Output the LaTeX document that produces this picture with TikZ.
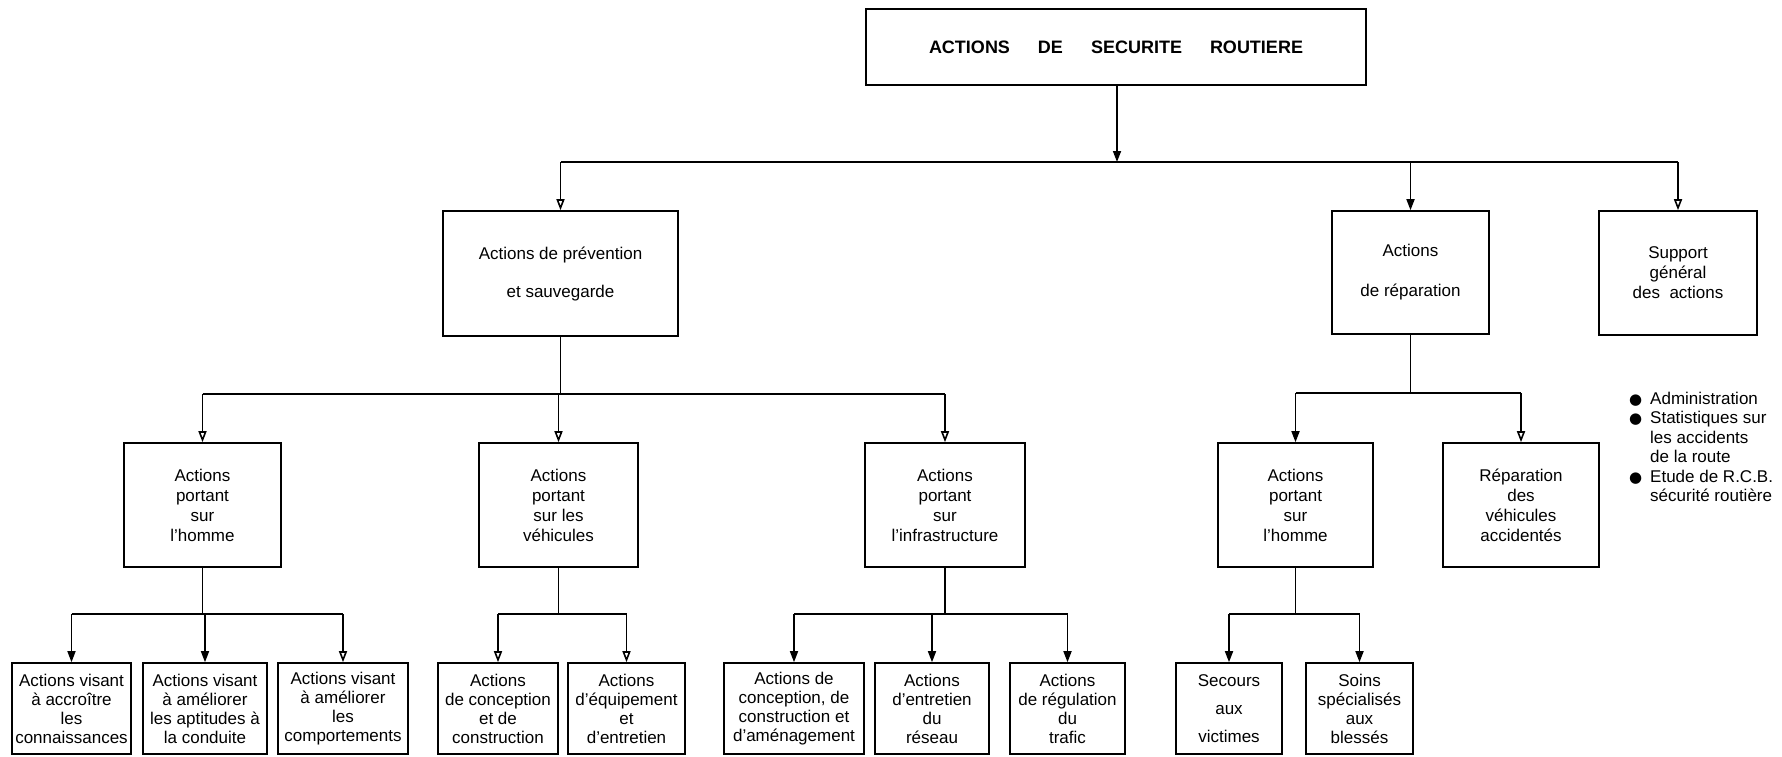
\documentclass[tikz,border=0pt]{standalone}
\usepackage{fontspec}
\setmainfont{Liberation Sans}
\newfontfamily\symb{DejaVu Sans}
\usetikzlibrary{arrows.meta}
\newcommand{\puce}{\llap{{\symb\fontsize{15}{15}\selectfont ●}\hspace{8pt}}}
\tikzset{
  boite/.style={draw, line width=1.6pt, align=center, inner sep=1pt, font=\fontsize{17}{20}\selectfont},
  petite/.style={boite, minimum height=91pt, font=\fontsize{17}{19}\selectfont},
  trait/.style={line width=1.6pt},
  fl/.style={line width=1.6pt, -{Triangle[length=11pt,width=8pt]}},
  flo/.style={line width=1.6pt, -{Triangle[open,length=11pt,width=8pt,fill=white]}}
}

\begin{document}
\begin{tikzpicture}[x=1pt,y=-1pt]
        \useasboundingbox (0,0) rectangle (1782,756);
        % sommet
        \node[boite, minimum width=500pt, minimum height=76pt, font=\fontsize{18}{20}\selectfont\bfseries] (titre) at (1116,47) {ACTIONS\hspace{28pt}DE\hspace{28pt}SECURITE\hspace{28pt}ROUTIERE};
        % niveau 2
        \node[boite, minimum width=235pt, minimum height=125pt] (prev) at (560.5,273.5) {Actions de prévention\\[18pt]et sauvegarde};
        \node[boite, minimum width=157pt, minimum height=123pt] (repar) at (1410.5,272.5) {Actions\\[20pt]de réparation};
        \node[boite, minimum width=158pt, minimum height=124pt] (support) at (1678,273) {Support\\général\\des\ \ actions};
        % niveau 3
        \node[boite, minimum width=157pt, minimum height=124pt] (hom) at (202.5,505) {Actions\\portant\\sur\\l'homme};
        \node[boite, minimum width=159pt, minimum height=124pt] (veh) at (558.5,505) {Actions\\portant\\sur les\\véhicules};
        \node[boite, minimum width=160pt, minimum height=124pt] (inf) at (945,505) {Actions\\portant\\sur\\l'infrastructure};
        \node[boite, minimum width=155pt, minimum height=124pt] (rhom) at (1295.5,505) {Actions\\portant\\sur\\l'homme};
        \node[boite, minimum width=156pt, minimum height=124pt] (rveh) at (1521,505) {Réparation\\des\\véhicules\\accidentés};
        % niveau 4
        \node[petite, minimum width=119pt] (conn) at (71.5,708.5) {Actions visant\\à accroître\\les\\connaissances};
        \node[petite, minimum width=124pt] (apti) at (205,708.5) {Actions visant\\à améliorer\\les aptitudes à\\la conduite};
        \node[petite, minimum width=130pt] (comp) at (343,708.5) {Actions visant\\à améliorer\\les\\comportements};
        \node[petite, minimum width=120pt] (conc) at (498,708.5) {Actions\\de conception\\et de\\construction};
        \node[petite, minimum width=117pt] (equi) at (626.5,708.5) {Actions\\d'équipement\\et\\d'entretien};
        \node[petite, minimum width=140pt] (amen) at (794,708.5) {Actions de\\conception, de\\construction et\\d'aménagement};
        \node[petite, minimum width=114pt] (entr) at (932,708.5) {Actions\\d'entretien\\du\\réseau};
        \node[petite, minimum width=115pt] (regu) at (1067.5,708.5) {Actions\\de régulation\\du\\trafic};
        \node[petite, minimum width=106pt] (secu) at (1229,708.5) {Secours\\[9pt]aux\\[9pt]victimes};
        \node[petite, minimum width=107pt] (soin) at (1359.5,708.5) {Soins\\spécialisés\\aux\\blessés};
        % liste sous le support
        \node[anchor=north west, align=left, inner sep=0pt, font=\fontsize{17}{19.4}\selectfont] (liste) at (1650,392) {\puce Administration\\\puce Statistiques sur\\les accidents\\de la route\\\puce Etude de R.C.B.\\sécurité routière};

        % liaisons
        \coordinate (j1) at (1117,162);
        \draw[fl] (titre.south -| j1) -- (j1);
        \draw[trait] (prev.north |- j1) -- (support.north |- j1);
        \draw[flo] (prev.north |- j1) -- (prev.north);
        \draw[fl] (repar.north |- j1) -- (repar.north);
        \draw[flo] (support.north |- j1) -- (support.north);

        \coordinate (j2) at (560,394);
        \draw[trait] (prev.south) -- (prev.south |- j2);
        \draw[trait] (hom.north |- j2) -- (inf.north |- j2);
        \draw[flo] (hom.north |- j2) -- (hom.north);
        \draw[flo] (veh.north |- j2) -- (veh.north);
        \draw[flo] (inf.north |- j2) -- (inf.north);

        \coordinate (j3) at (1410,393);
        \draw[trait] (repar.south) -- (repar.south |- j3);
        \draw[trait] (rhom.north |- j3) -- (rveh.north |- j3);
        \draw[fl] (rhom.north |- j3) -- (rhom.north);
        \draw[flo] (rveh.north |- j3) -- (rveh.north);

        \coordinate (j4) at (0,614);
        \draw[trait] (hom.south) -- (hom.south |- j4);
        \draw[trait] (conn.north |- j4) -- (comp.north |- j4);
        \draw[fl] (conn.north |- j4) -- (conn.north);
        \draw[fl] (apti.north |- j4) -- (apti.north);
        \draw[flo] (comp.north |- j4) -- (comp.north);

        \draw[trait] (veh.south) -- (veh.south |- j4);
        \draw[trait] (conc.north |- j4) -- (equi.north |- j4);
        \draw[flo] (conc.north |- j4) -- (conc.north);
        \draw[flo] (equi.north |- j4) -- (equi.north);

        \draw[trait] (inf.south) -- (inf.south |- j4);
        \draw[trait] (amen.north |- j4) -- (regu.north |- j4);
        \draw[fl] (amen.north |- j4) -- (amen.north);
        \draw[fl] (entr.north |- j4) -- (entr.north);
        \draw[fl] (regu.north |- j4) -- (regu.north);

        \draw[trait] (rhom.south) -- (rhom.south |- j4);
        \draw[trait] (secu.north |- j4) -- (soin.north |- j4);
        \draw[fl] (secu.north |- j4) -- (secu.north);
        \draw[fl] (soin.north |- j4) -- (soin.north);
      \end{tikzpicture}
\end{document}
